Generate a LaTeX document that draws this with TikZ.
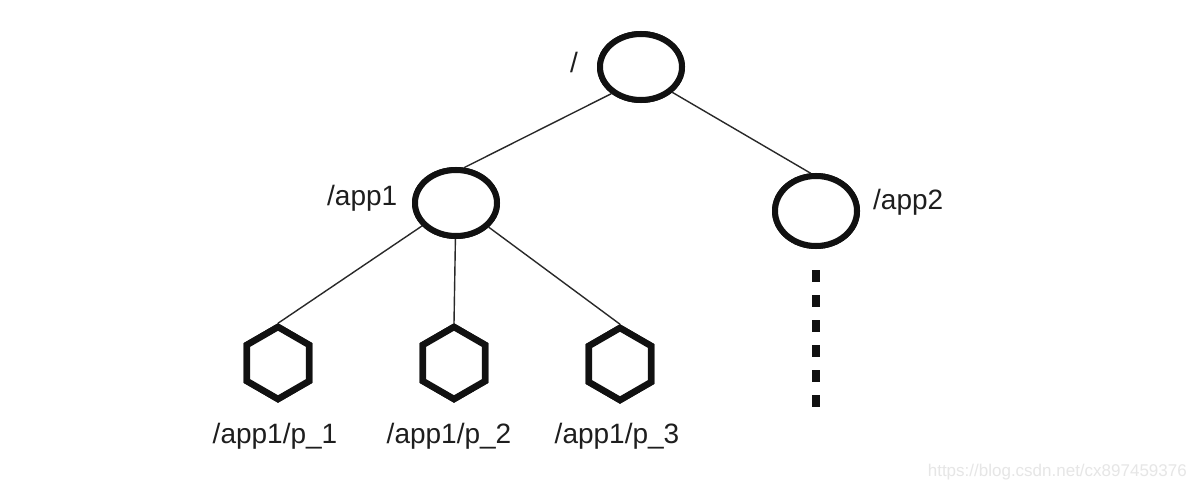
\documentclass[tikz,border=0pt]{standalone}
\usepackage{fontspec}
\setmainfont{Liberation Sans}
\usetikzlibrary{shapes.geometric}
\definecolor{ink}{HTML}{111111}
\definecolor{txt}{HTML}{1E1E1E}
\definecolor{wm}{HTML}{E6E6E6}
\tikzset{
  znode/.style={ellipse,draw=ink,line width=6pt,fill=white,minimum width=82pt,minimum height=66pt,inner sep=0pt},
  hexnode/.style={regular polygon,regular polygon sides=6,shape border rotate=30,draw=ink,line width=6.5pt,fill=white,minimum size=72pt,inner sep=0pt},
  edge/.style={draw=ink!90,line width=1.4pt},
  lbl/.style={text=txt,font=\fontsize{28}{30}\selectfont,inner sep=0pt,anchor=base},
  more/.style={draw=ink,line width=8pt,dash pattern=on 12pt off 13pt}
}
\begin{document}
\begin{tikzpicture}[x=1pt,y=-1pt]
\useasboundingbox (0,0) rectangle (1196,489);
\fill[white] (0,0) rectangle (1196,489);
\coordinate (rootc) at (641,67);
\coordinate (app1c) at (456,203);
\coordinate (app2c) at (816,211);
\coordinate (h1c) at (278,363);
\coordinate (h2c) at (454,363);
\coordinate (h3c) at (620,364);
\node[znode] (root) at (rootc) {};
\node[znode] (app1) at (app1c) {};
\node[znode,minimum height=70pt] (app2) at (app2c) {};
\node[hexnode] (h1) at (h1c) {};
\node[hexnode] (h2) at (h2c) {};
\node[hexnode] (h3) at (h3c) {};
\draw[edge] (root.-138) -- (app1.77);
\draw[edge] (root.-39) -- (app2.98);
\draw[edge] (app1) -- (h1.north);
\draw[edge] (app1) -- (h2.north);
\draw[edge] (app1) -- (h3.north);
% redraw shapes on top of the edges
\node[znode] at (rootc) {};
\node[znode] at (app1c) {};
\node[znode,minimum height=70pt] at (app2c) {};
\node[hexnode] at (h1c) {};
\node[hexnode] at (h2c) {};
\node[hexnode] at (h3c) {};
% dotted continuation
\coordinate (dtop) at (816,270);
\coordinate (dbot) at (816,408);
\draw[more] (dtop) -- (dbot);
% labels
\node[lbl] (lroot) at (574,73) {/};
\node[lbl,anchor=base west] (lapp1) at (327,205) {/app1};
\node[lbl,anchor=base west] (lapp2) at (873,210) {/app2};
\node[lbl] (lh1) at (275,443) {/app1/p\_1};
\node[lbl] (lh2) at (449,443) {/app1/p\_2};
\node[lbl] (lh3) at (617,443) {/app1/p\_3};
\node[text=wm,font=\fontsize{17}{19}\selectfont,inner sep=0pt,anchor=base east] (wmark) at (1187,476) {https://blog.csdn.net/cx897459376};
\end{tikzpicture}
\end{document}
